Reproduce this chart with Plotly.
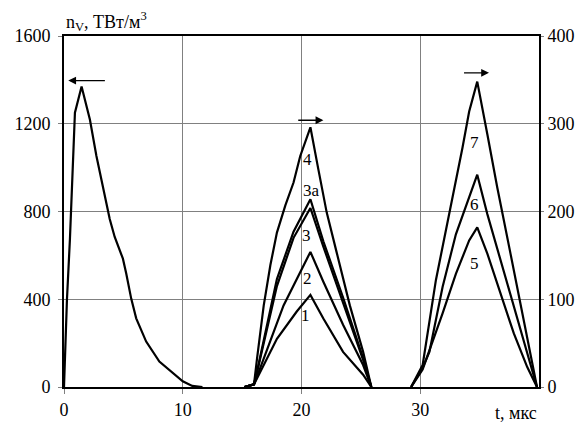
import plotly.graph_objects as go

# ---- data ----
t_left = [0, 0.25, 0.5, 0.65, 0.92, 1.48, 2.18, 2.73, 3.29, 3.85, 4.27, 4.96, 5.24,
          5.66, 6.08, 6.92, 8.03, 9.15, 10.0, 10.8, 11.66]
n_left = [0, 400, 675, 900, 1250, 1370, 1219, 1053, 917, 766, 684, 585, 517,
          403, 313, 207, 116, 63, 26, 5, 0]

t_c1 = [15.2, 16.0, 16.26, 17.93, 19.6, 20.75, 21.84, 23.5, 25.19, 25.88]
n_c1 = [0, 3, 10, 55, 86, 105, 78, 40, 14, 0]

t_c2 = [15.2, 16.0, 16.26, 18.49, 20.75, 21.84, 23.5, 25.19, 25.88]
n_c2 = [0, 3, 12, 93, 154, 120, 71, 25, 0]

t_c3 = [15.2, 16.0, 16.26, 17.93, 19.33, 20.75, 21.84, 23.5, 25.19, 25.88]
n_c3 = [0, 3, 17, 115, 170, 204, 160, 97, 31, 0]

t_c3a = [15.2, 16.0, 16.26, 17.93, 19.33, 20.75, 21.84, 23.5, 25.19, 25.88]
n_c3a = [0, 3, 18, 123, 177, 214, 166, 102, 33, 0]

t_c4 = [15.2, 16.0, 16.26, 16.82, 17.38, 17.93, 18.64, 19.33, 19.89, 20.75,
        21.42, 22.12, 22.95, 24.07, 25.19, 25.88]
n_c4 = [0, 3, 33, 93, 139, 176, 207, 233, 263, 296,
        248, 199, 154, 93, 40, 0]

t_c5 = [29.23, 30.2, 31.88, 33.0, 34.12, 34.8, 35.65, 36.76, 37.88, 39.0, 39.83]
n_c5 = [0, 20, 84, 129, 167, 182, 152, 106, 61, 23, 0]

t_c6 = [29.23, 30.2, 30.77, 31.88, 33.0, 34.12, 34.8, 35.65, 36.76, 37.88, 39.0, 39.83]
n_c6 = [0, 22, 40, 114, 174, 216, 242, 197, 144, 91, 38, 0]

t_c7 = [29.23, 30.2, 31.32, 32.44, 33.56, 34.12, 34.8, 35.65, 36.49, 37.6, 38.72, 39.83]
n_c7 = [0, 25, 122, 197, 273, 314, 348, 288, 227, 152, 76, 0]

curve_labels = ["1", "2", "3", "3а", "4", "5", "6", "7"]
label_t = [20.36, 20.5, 20.44, 20.87, 20.5, 34.59, 34.59, 34.59]
label_n = [82, 123.5, 172.6, 223.6, 258.7, 140.5, 208.5, 279]

x_ticks = [0, 10, 20, 30]
y_left_ticks = [0, 400, 800, 1200, 1600]
y_right_ticks = [0, 100, 200, 300, 400]

# arrows: (head_t, tail_t, level, axis)
arrows = [
    (0.36, 3.57, 1397, "y"),
    (21.84, 19.6, 304, "y2"),
    (35.79, 33.56, 358, "y2"),
]

FONT = "Liberation Serif, DejaVu Serif, serif"
FS = 18
LW = 2.2

fig = go.Figure()
fig.add_trace(go.Scatter(x=t_left, y=n_left, mode="lines",
                         line=dict(color="black", width=LW), yaxis="y"))
for tt, nn in [(t_c1, n_c1), (t_c2, n_c2), (t_c3, n_c3), (t_c3a, n_c3a), (t_c4, n_c4),
               (t_c5, n_c5), (t_c6, n_c6), (t_c7, n_c7)]:
    fig.add_trace(go.Scatter(x=tt, y=nn, mode="lines",
                             line=dict(color="black", width=LW), yaxis="y2"))

annotations = []
for txt, tx, ny in zip(curve_labels, label_t, label_n):
    annotations.append(dict(x=tx, y=ny, xref="x", yref="y2", text=txt, showarrow=False,
                            font=dict(family=FONT, size=17, color="black")))
for head, tail, lev, ax in arrows:
    annotations.append(dict(x=head, y=lev, xref="x", yref=ax, ax=tail, ay=lev,
                            axref="x", ayref=ax, text="", showarrow=True,
                            arrowhead=2, arrowsize=1.2, arrowwidth=1.3,
                            arrowcolor="black"))
annotations.append(dict(x=0, y=1, xref="paper", yref="paper", xanchor="left",
                        yanchor="bottom", yshift=0,
                        text="n<sub>V</sub>, ТВт/м<sup>3</sup>", showarrow=False,
                        font=dict(family=FONT, size=FS, color="black")))
annotations.append(dict(x=1, y=0, xref="paper", yref="paper", xanchor="right",
                        yanchor="top", yshift=-14, text="t, мкс", showarrow=False,
                        font=dict(family=FONT, size=FS, color="black")))

fig.update_layout(
    width=587, height=432,
    margin=dict(l=64, r=46, t=36, b=43),
    paper_bgcolor="white", plot_bgcolor="white",
    showlegend=False,
    font=dict(family=FONT, size=FS, color="black"),
    xaxis=dict(range=[0, 40], tickvals=x_ticks, showgrid=True, gridcolor="#808080",
               gridwidth=1.3, showline=True, linecolor="black", linewidth=2,
               mirror=True, ticks="outside", ticklen=5, tickcolor="#808080",
               zeroline=False, tickfont=dict(family=FONT, size=FS)),
    yaxis=dict(range=[0, 1600], tickvals=y_left_ticks, showgrid=True,
               gridcolor="#808080", gridwidth=1.3, showline=True, linecolor="black",
               linewidth=2, ticks="outside", ticklen=4, tickcolor="#808080",
               zeroline=False, tickfont=dict(family=FONT, size=FS),
               ticklabelstandoff=4),
    yaxis2=dict(range=[0, 400], tickvals=y_right_ticks, overlaying="y", side="right",
                showgrid=False, showline=True, linecolor="black", linewidth=2,
                ticks="outside", ticklen=3, tickcolor="#808080", zeroline=False,
                tickfont=dict(family=FONT, size=FS)),
    annotations=annotations,
)

fig.write_html("out.html")
